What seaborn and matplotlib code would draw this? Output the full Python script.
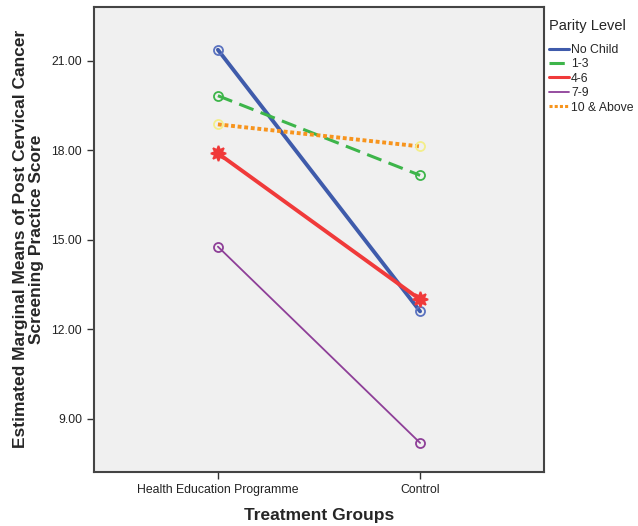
import matplotlib
matplotlib.use("Agg")
import matplotlib.pyplot as plt
import seaborn as sns
import pandas as pd

groups = ["Health Education Programme", "Control"]
levels = ["No Child", "1-3", "4-6", "7-9", "10 & Above"]
no_child = [21.37, 12.60]
one_three = [19.83, 17.16]
four_six = [17.90, 13.00]
seven_nine = [14.77, 8.19]
ten_above = [18.87, 18.13]

values = [no_child, one_three, four_six, seven_nine, ten_above]
rows = []
for lev, vals in zip(levels, values):
    for g, v in zip(groups, vals):
        rows.append({"group": g, "level": lev, "score": v})
df = pd.DataFrame(rows)

sns.set_style("white")
plt.rcParams["font.family"] = ["Liberation Sans", "DejaVu Sans"]

styles = {
    "No Child": dict(color="#3f5bab", ls="-", lw=2.8, marker="o", ms=6.5, mfc="none", mec="#5b73c0"),
    "1-3": dict(color="#3db54a", ls=(0, (5, 2.5)), lw=2.2, marker="o", ms=6.5, mfc="none", mec="#3db54a"),
    "4-6": dict(color="#f03a3a", ls="-", lw=2.8, marker=(8, 1, 0), ms=11, mfc="#f03a3a", mec="#f03a3a"),
    "7-9": dict(color="#8e3f98", ls="-", lw=1.3, marker="o", ms=6.5, mfc="none", mec="#8e3f98"),
    "10 & Above": dict(color="#f7941d", ls=(0, (1, 0.7)), lw=2.8, marker="o", ms=6.5, mfc="none", mec="#f3ee8a"),
}

fig = plt.figure(figsize=(6.38, 5.26), dpi=100)
ax = fig.add_axes([0.147, 0.103, 0.706, 0.884])
ax.set_facecolor("#f0f0f0")

handles = []
for lev in levels:
    st = styles[lev]
    sub = df[df["level"] == lev]
    sns.lineplot(data=sub, x="group", y="score", ax=ax, color=st["color"],
                 linewidth=st["lw"], linestyle=st["ls"], legend=False, sort=False)
    ln = ax.lines[-1]
    ln.set_marker(st["marker"])
    ln.set_markersize(st["ms"])
    ln.set_markerfacecolor(st["mfc"])
    ln.set_markeredgecolor(st["mec"])
    ln.set_markeredgewidth(1.3)
    h = plt.Line2D([], [], color=st["color"], lw=min(st["lw"], 2.2), ls=st["ls"])
    handles.append(h)

ax.set_xlim(-0.614, 1.614)
ax.set_ylim(7.22, 22.81)
ax.set_yticks([9, 12, 15, 18, 21])
ax.set_yticklabels(["9.00", "12.00", "15.00", "18.00", "21.00"])
ax.tick_params(axis="both", direction="out", length=5, width=1, color="#333333",
               labelsize=8.8, labelcolor="#222222", left=True, bottom=True)

for sp in ax.spines.values():
    sp.set_color("#444444")
    sp.set_linewidth(1.5)

ax.set_xlabel("Treatment Groups", fontsize=12.5, fontweight="bold", labelpad=9)
ax.set_ylabel("Estimated Marginal Means of Post Cervical Cancer\nScreening Practice Score",
              fontsize=12.5, fontweight="bold", labelpad=5, linespacing=1.1)

leg = ax.legend(handles, levels, title="Parity Level", loc="upper left",
                bbox_to_anchor=(1.0, 0.985), frameon=False, fontsize=8.8,
                title_fontsize=10.5, handlelength=1.6, handletextpad=0.2,
                labelspacing=0.2, borderaxespad=0.1, borderpad=0.3, alignment="left")
leg._legend_box.sep = 8

fig.savefig("out.png", dpi=100)
